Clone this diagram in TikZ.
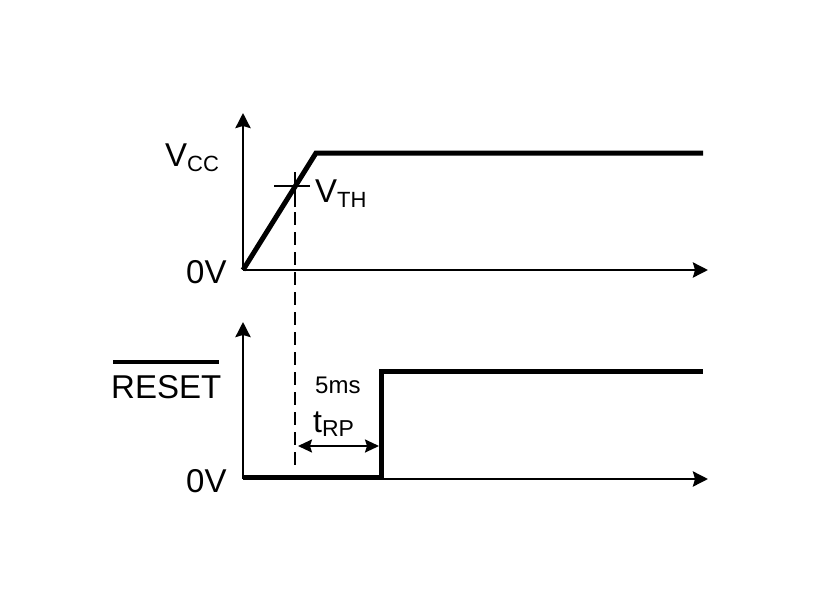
\documentclass[tikz,border=0pt]{standalone}
\usepackage{fontspec}
\setmainfont{Liberation Sans}
\usetikzlibrary{arrows.meta}

\newcommand{\lowsub}[2]{\raisebox{-#2}{\fontsize{22}{26}\selectfont #1}}

\begin{document}
\begin{tikzpicture}[x=1pt, y=-1pt,
    axis/.style={line width=2.8pt, -{Stealth[length=15pt, width=15pt, inset=2pt]}},
    signal/.style={line width=5pt},
    lbl/.style={font=\fontsize{33}{40}\selectfont, inner sep=0pt, anchor=base west}]

    % Page size in pixels
    \useasboundingbox (0,0) rectangle (820,616);

    \def\xo{243}     % x of both origins
    \def\yta{270}    % top time axis
    \def\yba{479}    % bottom time axis
    \def\xend{708}   % arrow ends
    \def\xth{295}    % threshold time
    \def\xrp{381}    % reset release

    % Origins and corners
    \coordinate (otop) at (\xo, \yta);
    \coordinate (obot) at (\xo, \yba);
    \coordinate (ttip) at (\xo, 113);
    \coordinate (btip) at (\xo, 322);
    \coordinate (tend) at (\xend, \yta);
    \coordinate (bend) at (\xend, \yba);

    % Axes
    \draw[axis] (otop) -- (ttip);
    \draw[axis] (otop) -- (tend);
    \draw[axis] (obot) -- (btip);
    \draw[axis] (obot) -- (bend);

    % Vcc ramp
    \coordinate (vcc) at (316, 153);
    \coordinate (vccend) at (703, 153);
    \draw[signal, line join=miter] (otop) -- (vcc) -- (vccend);

    % Threshold mark
    \coordinate (vth) at (\xth, 186);
    \draw[line width=2pt] ([xshift=-21pt]vth) -- ([xshift=15pt]vth);
    \draw[line width=2pt] ([yshift=-21pt]vth) -- ([yshift=14pt]vth);
    \coordinate (thdown) at (\xth, 470);
    \draw[line width=2pt, dash pattern=on 13pt off 7pt] ([yshift=14pt]vth) -- (thdown);

    % RESET signal
    \coordinate (rlow) at (\xrp, 477);
    \coordinate (rhigh) at (\xrp, 371);
    \coordinate (rend) at (703, 371);
    \draw[signal, line join=miter] ([xshift=1pt]obot |- rlow) -- (rlow) -- (rhigh) -- (rend);

    % Reset pulse width
    \coordinate (rpa) at (298, 446);
    \coordinate (rpb) at (379, 446);
    \draw[line width=2pt, {Stealth[length=14pt, width=13pt, inset=2pt]}-{Stealth[length=14pt, width=13pt, inset=2pt]}] (rpa) -- (rpb);

    % Labels
    \node[lbl] (lvcc) at (165, 166) {V\lowsub{CC}{5pt}};
    \node[lbl] (lvth) at (315, 202) {V\lowsub{TH}{5pt}};
    \node[lbl] (lzt) at (186, 283) {0V};
    \node[lbl] (lzb) at (186, 492) {0V};
    \node[lbl] (lrst) at (111, 398) {RESET};
    \draw[line width=4pt] (113, 362) -- (219, 362);
    \node[lbl, font=\fontsize{24}{28}\selectfont] (l5ms) at (315, 393) {5ms};
    \node[lbl, font=\fontsize{32}{38}\selectfont] (ltrp) at (313, 432) {t\raisebox{-4pt}{\fontsize{23}{27}\selectfont RP}};

\end{tikzpicture}
\end{document}
